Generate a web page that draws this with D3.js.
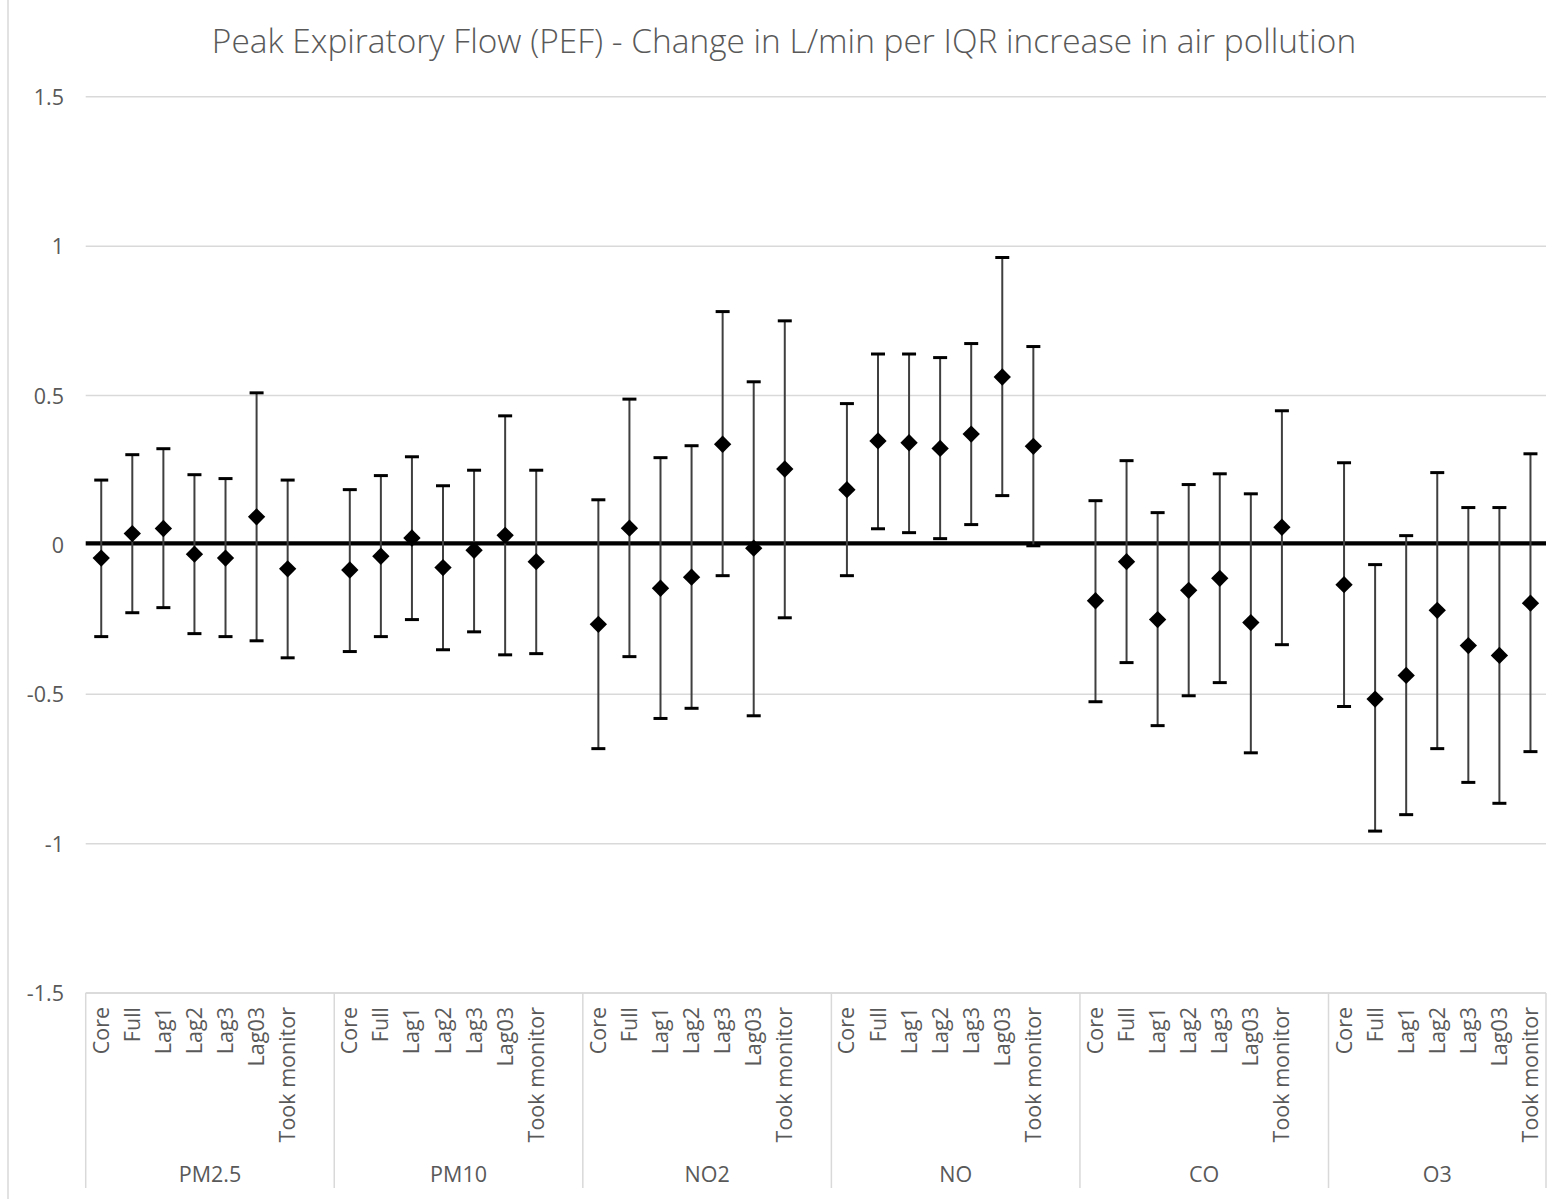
<!DOCTYPE html>
<html>
<head>
<meta charset="utf-8">
<script src="https://cdn.jsdelivr.net/npm/d3@7"></script>
<style>
  html, body { margin: 0; padding: 0; background: #fff; }
  svg { display: block; font-family: "Open Sans", "DejaVu Sans", sans-serif; }
</style>
</head>
<body>
<svg id="chart" width="1564" height="1199"></svg>
<script>
// Pollutants (outer category level) and model variants (inner level)
const pollutants = ["PM2.5", "PM10", "NO2", "NO", "CO", "O3"];
const models = ["Core", "Full", "Lag1", "Lag2", "Lag3", "Lag03", "Took monitor"];

// Change in PEF (L/min) per IQR increase, one array per pollutant
const estPM25 = [-0.044, 0.038, 0.055, -0.031, -0.044, 0.094, -0.080];
const estPM10 = [-0.084, -0.038, 0.023, -0.076, -0.018, 0.032, -0.056];
const estNO2  = [-0.266, 0.056, -0.145, -0.108, 0.337, -0.011, 0.254];
const estNO   = [0.185, 0.348, 0.342, 0.323, 0.371, 0.562, 0.330];
const estCO   = [-0.187, -0.056, -0.250, -0.152, -0.112, -0.260, 0.059];
const estO3   = [-0.133, -0.516, -0.437, -0.219, -0.337, -0.370, -0.195];

// Lower 95% confidence limits
const lowPM25 = [-0.307, -0.227, -0.210, -0.297, -0.307, -0.321, -0.378];
const lowPM10 = [-0.357, -0.307, -0.250, -0.351, -0.291, -0.368, -0.364];
const lowNO2  = [-0.682, -0.374, -0.581, -0.547, -0.103, -0.572, -0.244];
const lowNO   = [-0.103, 0.054, 0.041, 0.021, 0.068, 0.165, -0.003];
const lowCO   = [-0.525, -0.394, -0.605, -0.505, -0.461, -0.696, -0.334];
const lowO3   = [-0.541, -0.958, -0.903, -0.682, -0.795, -0.865, -0.692];

// Upper 95% confidence limits
const upPM25 = [0.217, 0.302, 0.322, 0.235, 0.222, 0.509, 0.217];
const upPM10 = [0.185, 0.232, 0.295, 0.198, 0.250, 0.432, 0.250];
const upNO2  = [0.151, 0.488, 0.292, 0.332, 0.781, 0.546, 0.750];
const upNO   = [0.473, 0.639, 0.639, 0.627, 0.674, 0.962, 0.664];
const upCO   = [0.148, 0.282, 0.108, 0.202, 0.238, 0.171, 0.449];
const upO3   = [0.275, -0.066, 0.031, 0.242, 0.125, 0.125, 0.305];

// Y axis tick values
const yTicks = [-1.5, -1, -0.5, 0, 0.5, 1, 1.5];

const titleText = "Peak Expiratory Flow (PEF) - Change in L/min per IQR increase in air pollution";

// ---- assemble rows ----
const estimates = [estPM25, estPM10, estNO2, estNO, estCO, estO3];
const lowers = [lowPM25, lowPM10, lowNO2, lowNO, lowCO, lowO3];
const uppers = [upPM25, upPM10, upNO2, upNO, upCO, upO3];

const rows = [];
pollutants.forEach((p, gi) => {
  models.forEach((m, mi) => {
    rows.push({ group: p, model: m, key: p + "|" + m,
      est: estimates[gi][mi], lo: lowers[gi][mi], hi: uppers[gi][mi] });
  });
});

// Category slots: each pollutant block is followed by an empty spacer slot
const slots = [];
pollutants.forEach((p, gi) => {
  models.forEach(m => slots.push(p + "|" + m));
  if (gi < pollutants.length - 1) slots.push(p + "|_gap");
});

const plot = { left: 85.7, right: 1546, top: 96.8, bottom: 993 };

const x = d3.scaleBand().domain(slots).range([plot.left, plot.right]).padding(0);
const y = d3.scaleLinear().domain([-1.5, 1.5]).range([plot.bottom, plot.top]);
const cx = k => x(k) + x.bandwidth() / 2;

const svg = d3.select("#chart");
const textColor = "#595959";
const gridColor = "#d9d9d9";
const labelSize = "21.5px";

// chart area border (left edge)
svg.append("line")
  .attr("x1", 8).attr("x2", 8).attr("y1", 0).attr("y2", 1199)
  .attr("stroke", gridColor).attr("stroke-width", 1.5);

// title
const title = svg.append("text")
  .attr("x", 784).attr("y", 53)
  .attr("text-anchor", "middle")
  .attr("fill", textColor)
  .style("font-size", "29px")
  .style("font-weight", 300)
  .text(titleText);
const tw = title.node().getComputedTextLength();
title.style("font-size", (29 * 1145 / tw).toFixed(2) + "px");

// horizontal gridlines
svg.append("g").selectAll("line")
  .data(yTicks.filter(t => t !== 0))
  .join("line")
  .attr("x1", plot.left).attr("x2", plot.right)
  .attr("y1", d => y(d)).attr("y2", d => y(d))
  .attr("stroke", gridColor).attr("stroke-width", 1.5);

// y tick labels
const yAxis = d3.axisLeft(y).tickValues(yTicks).tickSize(0).tickPadding(0)
  .tickFormat(d => String(d));
const yg = svg.append("g").attr("transform", `translate(64,0)`).call(yAxis);
yg.select(".domain").remove();
yg.selectAll("text")
  .attr("fill", textColor)
  .style("font-size", labelSize)
  .style("font-family", '"Open Sans", sans-serif')
  .attr("dy", "0.35em");

// category axis line
svg.append("line")
  .attr("x1", plot.left).attr("x2", plot.right)
  .attr("y1", plot.bottom).attr("y2", plot.bottom)
  .attr("stroke", gridColor).attr("stroke-width", 1.5);

// group divider lines
const groupEdges = pollutants.map(p => x(p + "|" + models[0]));
groupEdges.push(plot.right);
svg.append("g").selectAll("line")
  .data(groupEdges)
  .join("line")
  .attr("x1", d => d).attr("x2", d => d)
  .attr("y1", plot.bottom).attr("y2", 1188)
  .attr("stroke", gridColor).attr("stroke-width", 1.5);

// inner category labels (rotated)
svg.append("g").selectAll("text")
  .data(rows)
  .join("text")
  .attr("transform", d => `translate(${cx(d.key)},1007) rotate(-90)`)
  .attr("text-anchor", "end")
  .attr("dy", "0.35em")
  .attr("fill", textColor)
  .style("font-size", labelSize)
  .text(d => d.model);

// outer pollutant labels
svg.append("g").selectAll("text")
  .data(pollutants)
  .join("text")
  .attr("x", (d, i) => (groupEdges[i] + groupEdges[i + 1]) / 2)
  .attr("y", 1174)
  .attr("dy", "0.35em")
  .attr("text-anchor", "middle")
  .attr("fill", textColor)
  .style("font-size", labelSize)
  .text(d => d);

// zero reference line
svg.append("line")
  .attr("x1", plot.left).attr("x2", plot.right)
  .attr("y1", y(0) - 1.5).attr("y2", y(0) - 1.5)
  .attr("stroke", "#000").attr("stroke-width", 4.2);

// error bars
const eb = svg.append("g").selectAll("g").data(rows).join("g");
eb.append("line")
  .attr("x1", d => cx(d.key)).attr("x2", d => cx(d.key))
  .attr("y1", d => y(d.hi)).attr("y2", d => y(d.lo))
  .attr("stroke", "#3f3f3f").attr("stroke-width", 2);
eb.append("line")
  .attr("x1", d => cx(d.key) - 7).attr("x2", d => cx(d.key) + 7)
  .attr("y1", d => y(d.hi)).attr("y2", d => y(d.hi))
  .attr("stroke", "#000").attr("stroke-width", 3);
eb.append("line")
  .attr("x1", d => cx(d.key) - 7).attr("x2", d => cx(d.key) + 7)
  .attr("y1", d => y(d.lo)).attr("y2", d => y(d.lo))
  .attr("stroke", "#000").attr("stroke-width", 3);

// point estimates (diamonds: squares turned 45 degrees)
svg.append("g").selectAll("path")
  .data(rows)
  .join("path")
  .attr("transform", d => `translate(${cx(d.key)},${y(d.est)}) rotate(45)`)
  .attr("d", d3.symbol().type(d3.symbolSquare).size(150))
  .attr("fill", "#000");
</script>
</body>
</html>
